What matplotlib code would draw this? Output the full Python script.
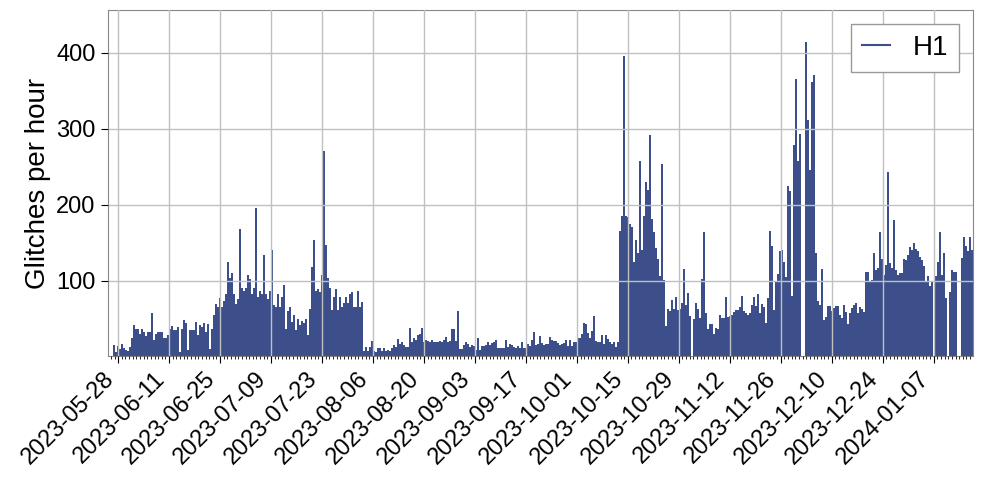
import numpy as np
import pandas as pd
import matplotlib
matplotlib.use("Agg")
import matplotlib.pyplot as plt
import matplotlib.dates as mdates
from matplotlib.lines import Line2D

plt.rcParams['font.family'] = ['Liberation Sans', 'DejaVu Sans']

# glitch rate per bin, read left to right
rate_may_jul = [16, 6, 14, 10, 17, 12, 9, 8, 13, 24,
                42, 37, 37, 30, 37, 32, 27, 32, 32, 58,
                22, 30, 32, 32, 32, 25, 25, 28, 37, 41,
                35, 35, 39, 6, 37, 48, 44, 9, 35, 35,
                35, 46, 29, 42, 39, 44, 32, 43, 10, 36,
                55, 69, 65, 77, 66, 73, 82, 124, 104, 110,
                82, 69, 76, 168, 91, 87, 91, 108, 102, 83,
                91, 195, 79, 87, 82, 134, 83, 76, 87, 141,
                68, 65, 82, 65, 78, 95, 37, 60, 66, 46,
                55, 35, 49, 42, 47, 45, 50, 28, 63, 118,
                153, 86, 89, 85, 107, 270, 147, 104, 91, 62,
                78, 89, 61, 78, 66, 71, 79, 71, 83, 85,
                66, 66, 86, 66, 72]
rate_aug_oct = [7, 13, 7, 13, 21, 7, 6, 11, 11, 7,
                12, 8, 9, 7, 11, 16, 13, 23, 17, 20,
                16, 13, 13, 38, 19, 25, 22, 29, 30, 38,
                19, 22, 21, 20, 22, 20, 20, 20, 21, 19,
                22, 26, 20, 21, 37, 37, 21, 60, 10, 10,
                16, 19, 17, 13, 16, 14, 9, 25, 9, 14,
                14, 16, 19, 16, 18, 20, 22, 11, 12, 12,
                12, 22, 13, 17, 16, 13, 11, 14, 11, 19,
                11, 11, 17, 14, 22, 33, 16, 17, 27, 18,
                16, 17, 17, 26, 22, 21, 21, 18, 16, 17,
                18, 22, 14, 22, 14, 20, 20, 25, 25, 30,
                45, 43, 31, 25, 34, 54, 21, 20, 19, 28,
                17, 29, 23, 19, 17, 19, 13, 20]
rate_oct_nov = [166, 185, 396, 185, 184, 175, 171, 124, 153, 137,
                257, 140, 185, 230, 219, 292, 181, 164, 143, 128,
                106, 254, 101, 40, 63, 60, 75, 63, 79, 62,
                63, 71, 115, 68, 84, 53, 0, 49, 71, 63,
                51, 102, 164, 57, 36, 43, 43, 30, 38, 36,
                55, 51, 51, 79, 52, 53, 55, 59, 62, 62,
                66, 80, 60, 58, 55, 58, 68, 78, 67, 83,
                57, 70, 65, 45, 77, 166, 146, 62, 100, 109]
rate_dec_jan = [139, 140, 125, 105, 224, 218, 80, 278, 365, 257,
                293, 0, 0, 414, 312, 246, 361, 370, 136, 73,
                68, 115, 48, 52, 67, 67, 60, 64, 67, 67,
                55, 51, 68, 59, 43, 57, 64, 68, 71, 57,
                65, 63, 59, 111, 111, 100, 101, 136, 114, 117,
                164, 128, 107, 121, 243, 123, 117, 180, 114, 107,
                110, 110, 128, 127, 134, 144, 141, 149, 142, 139,
                131, 127, 119, 98, 106, 93, 98, 0, 106, 125,
                164, 108, 136, 77, 0, 85, 114, 111, 112, 0,
                0, 130, 157, 145, 139, 157, 140]

rates = np.array(rate_may_jul + rate_aug_oct + rate_oct_nov + rate_dec_jan)
t_start = pd.Timestamp('2023-05-26 12:00')
t_end = pd.Timestamp('2024-01-17 16:00')
edges = pd.date_range(t_start, t_end, periods=len(rates) + 1)
left = mdates.date2num(edges[:-1])
width = np.diff(mdates.date2num(edges))

color = '#3c4f8a'

fig = plt.figure(figsize=(9.82, 4.84), dpi=100)
ax = fig.add_axes([0.1095, 0.2645, 0.8813, 0.7148])

ax.bar(left, rates, width=width, align='edge', color=color, linewidth=0)

ax.set_xlim(mdates.date2num(pd.Timestamp('2023-05-25 02:00')),
            mdates.date2num(pd.Timestamp('2024-01-17 19:00')))
ax.set_ylim(1, 456)
ax.set_yticks([100, 200, 300, 400])

major = pd.date_range('2023-05-28', '2024-01-07', freq='14D')
ax.set_xticks(mdates.date2num(major))
ax.set_xticklabels([d.strftime('%Y-%m-%d') for d in major])
ax.xaxis.set_minor_locator(mdates.DayLocator())
plt.setp(ax.get_xticklabels(), rotation=45, ha='right')

ax.tick_params(axis='both', which='major', labelsize=17, length=5, direction='out')
ax.tick_params(axis='x', which='minor', length=2.5)
ax.grid(True, which='major', color='#c0c0c0', linewidth=1)
ax.set_axisbelow(False)
for s in ax.spines.values():
    s.set_color('#888888')

ax.set_ylabel('Glitches per hour', fontsize=20)

handle = Line2D([], [], color=color, linewidth=1.5, label='H1')
leg = ax.legend(handles=[handle], loc='upper right', fontsize=20, fancybox=False,
                framealpha=1, edgecolor='#999999', borderaxespad=0.5,
                handlelength=1.0)

fig.savefig('out.png', dpi=100)
